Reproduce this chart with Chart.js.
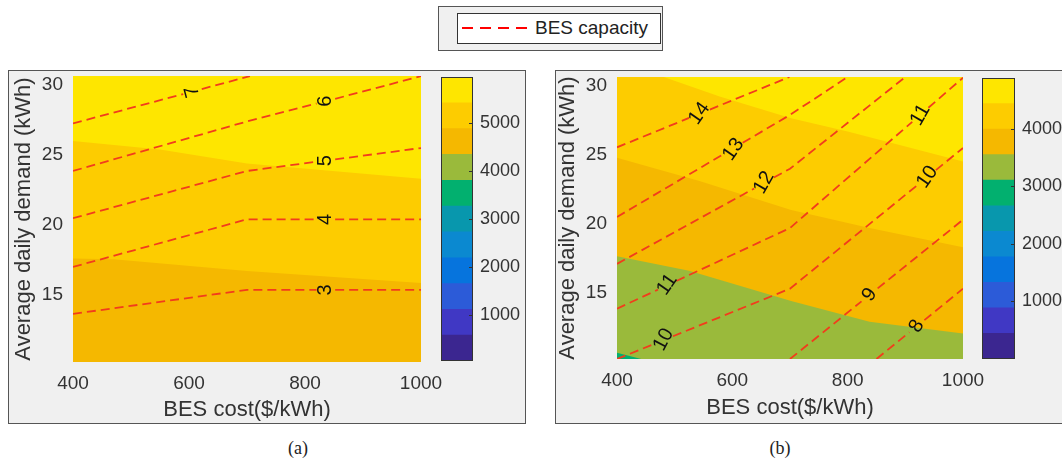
<!DOCTYPE html>
<html>
<head>
<meta charset="utf-8">
<script src="https://cdn.jsdelivr.net/npm/chart.js@4.4.1/dist/chart.umd.min.js"></script>
<style>
body { margin: 0; background: #fff; width: 1062px; height: 464px; position: relative; overflow: hidden; font-family: "Liberation Sans", Arial, sans-serif; }
.frame { position: absolute; box-sizing: border-box; border: 1px solid #555; background: #f0f0f0; }
canvas { position: absolute; }
.cap { position: absolute; font-family: "Liberation Serif", "Times New Roman", serif; font-size: 18px; color: #222; transform: translate(-50%, -50%); }
#legOuter { position: absolute; left: 438px; top: 6px; width: 225px; height: 45px; box-sizing: border-box; border: 1px solid #555; background: #f0f0f0; }
#legInner { position: absolute; left: 457px; top: 13px; width: 204px; height: 31px; box-sizing: border-box; border: 1px solid #333; background: #fff; }
#legText { position: absolute; left: 535px; top: 16px; font-size: 19px; color: #222; line-height: 24px; }
#legLine { position: absolute; left: 460px; top: 24px; }
</style>
</head>
<body>
<div class="frame" style="left:8px;top:70px;width:518px;height:354px"></div>
<div class="frame" style="left:555px;top:70px;width:520px;height:354px"></div>
<div id="legOuter"></div>
<div id="legInner"></div>
<svg id="legLine" width="72" height="8"><line x1="2" y1="4" x2="70" y2="4" stroke="#ff0000" stroke-width="2" stroke-dasharray="11 7"/></svg>
<div id="legText">BES capacity</div>

<canvas id="plotA" width="480" height="353" style="left:8px;top:70px"></canvas>
<canvas id="barA" width="95" height="300" style="left:430px;top:70px"></canvas>
<canvas id="plotB" width="480" height="353" style="left:552px;top:71px"></canvas>
<canvas id="barB" width="92" height="300" style="left:970px;top:70px"></canvas>

<div class="cap" style="left:298px;top:448px">(a)</div>
<div class="cap" style="left:780px;top:448px">(b)</div>

<script>
Chart.defaults.font.family = '"Liberation Sans", Arial, sans-serif';

// axes
const xTicks = [400, 600, 800, 1000];
const yTicks = [15, 20, 25, 30];
const yMin = 10.2, yMax = 30.65;

// colour bar levels (bottom to top)
const levelColors = ['#3b2690', '#4038c4', '#2c5bd8', '#0674dd', '#0b89d0', '#0897ad',
                     '#02b06f', '#9aba3b', '#f5b800', '#fdcc00', '#fee600'];
const levelsA = [42, 580, 1118, 1656, 2194, 2732, 3270, 3808, 4346, 4884, 5422, 5960];
const levelsB = [-10, 435, 880, 1325, 1770, 2215, 2660, 3105, 3550, 3995, 4440, 4885];
const cbTicksA = [1000, 2000, 3000, 4000, 5000];
const cbTicksB = [1000, 2000, 3000, 4000];

// (a) filled region borders
const aEdge1X = [400, 470, 700, 1000];
const aEdge1Y = [17.6, 17.55, 16.7, 15.85];
const aEdge2X = [400, 550, 700, 1000];
const aEdge2Y = [26.0, 25.4, 24.4, 23.3];

// (a) BES capacity contours (null = gap for the label)
const a3X = [400, 700, 820, 836, 852, 1000];
const a3Y = [13.64, 15.36, 15.36, null, 15.36, 15.36];
const a4X = [400, 700, 820, 836, 852, 1000];
const a4Y = [17.0, 20.4, 20.4, null, 20.4, 20.4];
const a5X = [400, 700, 820, 836, 852, 1000];
const a5Y = [20.48, 23.86, 24.52, null, 24.69, 25.5];
const a6X = [400, 700, 820, 836, 852, 1000];
const a6Y = [23.86, 27.4, 28.68, null, 29.02, 30.64];
const a7X = [400, 590, 606, 622, 705];
const a7Y = [27.26, 29.36, null, 29.72, 30.64];

const aLabelText = ['3', '4', '5', '6', '7'];
const aLabelX = [836, 836, 836, 836, 606];
const aLabelY = [15.36, 20.4, 24.6, 28.85, 29.54];
const aLabelRot = [-90, -90, -90, -90, -105];

// (b) filled region borders
const bTealX = [400, 442];
const bTealY = [10.65, 10.2];
const bEdge1X = [400, 525, 702, 838, 1000];
const bEdge1Y = [17.66, 16.6, 14.4, 12.9, 12.05];
const bEdge2X = [400, 543, 702, 838, 1000];
const bEdge2Y = [24.8, 23.1, 21.0, 19.7, 18.3];
const bEdge3X = [400, 481, 578, 702, 800, 1000];
const bEdge3Y = [30.65, 30.65, 29.23, 27.66, 26.7, 24.52];

// (b) BES capacity contours
const b14X = [400, 525, 543, 561, 699];
const b14Y = [25.55, 27.68, null, 28.29, 30.65];
const b13X = [400, 586, 602, 618, 700, 800];
const b13Y = [20.5, 25.09, null, 25.88, 27.9, 30.65];
const b12X = [400, 638, 655, 672, 700, 900];
const b12Y = [17.1, 22.57, null, 23.36, 24.0, 30.65];
const b11X = [400, 471, 487, 503, 700, 912, 926, 940, 1000];
const b11Y = [13.85, 15.23, null, 15.86, 19.7, 27.4, null, 28.42, 30.6];
const b10X = [400, 465, 481, 497, 700, 923, 938, 953, 1000];
const b10Y = [10.2, 11.3, null, 11.85, 15.3, 22.88, null, 23.9, 25.5];
const b9X = [700, 824, 838, 852, 1000];
const b9Y = [10.2, 14.38, null, 15.32, 20.3];
const b8X = [850, 907, 920, 933, 1000];
const b8Y = [10.2, 12.14, null, 13.02, 15.3];

const bLabelText = ['14', '13', '12', '11', '11', '10', '10', '9', '8'];
const bLabelX = [543, 602, 655, 487, 926, 481, 938, 838, 920];
const bLabelY = [28.0, 25.4, 23.0, 15.6, 27.9, 11.6, 23.4, 14.85, 12.58];
const bLabelRot = [-55, -55, -60, -55, -60, -62, -55, -55, -60];

function pts(xs, ys) {
    return xs.map((x, i) => ({ x: x, y: ys[i] }));
}

function band(xs, ys, color, order) {
    return {
        data: pts(xs, ys), fill: 'start', backgroundColor: color,
        borderColor: 'rgba(0,0,0,0)', borderWidth: 0, pointRadius: 0, order: order
    };
}

function contour(xs, ys) {
    return {
        data: pts(xs, ys), fill: false, borderColor: '#f23c1c', borderWidth: 1.8,
        borderDash: [9, 5], pointRadius: 0, order: 1
    };
}

function labelPlugin(texts, xs, ys, rots) {
    return {
        id: 'clabels',
        afterDatasetsDraw(chart) {
            const ctx = chart.ctx;
            const sx = chart.scales.x, sy = chart.scales.y;
            ctx.save();
            ctx.font = '20px "Liberation Sans", Arial, sans-serif';
            ctx.fillStyle = '#111';
            ctx.textAlign = 'center';
            ctx.textBaseline = 'middle';
            texts.forEach((t, i) => {
                ctx.save();
                ctx.translate(sx.getPixelForValue(xs[i]), sy.getPixelForValue(ys[i]));
                ctx.rotate(rots[i] * Math.PI / 180);
                ctx.fillText(t, 0, 0);
                ctx.restore();
            });
            ctx.restore();
        }
    };
}

const plain = v => String(v);

function makePlot(id, datasets, plugin, pad, yW, xH) {
    return new Chart(document.getElementById(id), {
        type: 'line',
        data: { datasets: datasets },
        options: {
            responsive: false, animation: false, events: [],
            layout: { padding: pad },
            plugins: { legend: { display: false }, tooltip: { enabled: false } },
            scales: {
                x: {
                    type: 'linear', min: 400, max: 1000,
                    afterBuildTicks: s => { s.ticks = xTicks.map(v => ({ value: v })); },
                    afterFit: s => { s.height = xH; s.paddingLeft = 0; s.paddingRight = 0; },
                    grid: { display: false, drawTicks: false }, border: { display: false },
                    ticks: { padding: 10, color: '#333', font: { size: 19 }, maxRotation: 0, autoSkip: false, callback: plain },
                    title: { display: true, text: 'BES cost($/kWh)', color: '#333', font: { size: 22 }, padding: 0 }
                },
                y: {
                    type: 'linear', min: yMin, max: yMax,
                    afterBuildTicks: s => { s.ticks = yTicks.map(v => ({ value: v })); },
                    afterFit: s => { s.width = yW; s.paddingTop = 0; s.paddingBottom = 0; },
                    grid: { display: false, drawTicks: false }, border: { display: false },
                    ticks: { padding: 10, color: '#333', font: { size: 19 }, autoSkip: false, callback: plain },
                    title: { display: true, text: 'Average daily demand (kWh)', color: '#333', font: { size: 22 }, padding: 0 }
                }
            }
        },
        plugins: [plugin]
    });
}

const cbOutline = {
    id: 'cbOutline',
    afterDraw(chart) {
        const ctx = chart.ctx, a = chart.chartArea, sy = chart.scales.y;
        ctx.save();
        ctx.strokeStyle = '#333';
        ctx.lineWidth = 1;
        ctx.strokeRect(a.left + 0.5, a.top + 0.5, a.right - a.left - 1, a.bottom - a.top - 1);
        sy.ticks.forEach(t => {
            const py = Math.round(sy.getPixelForValue(t.value)) + 0.5;
            ctx.beginPath();
            ctx.moveTo(a.right - 4, py);
            ctx.lineTo(a.right, py);
            ctx.stroke();
        });
        ctx.restore();
    }
};

function makeColorbar(id, levels, ticks, pad, axisW) {
    const datasets = levelColors.map((c, i) => ({
        data: [[levels[i], levels[i + 1]]], backgroundColor: c, borderWidth: 0,
        grouped: false, barPercentage: 1, categoryPercentage: 1
    }));
    return new Chart(document.getElementById(id), {
        type: 'bar',
        data: { labels: [''], datasets: datasets },
        options: {
            responsive: false, animation: false, events: [],
            layout: { padding: pad },
            plugins: { legend: { display: false }, tooltip: { enabled: false } },
            scales: {
                x: { display: false },
                y: {
                    position: 'right', min: levels[0], max: levels[levels.length - 1],
                    afterBuildTicks: s => { s.ticks = ticks.map(v => ({ value: v })); },
                    afterFit: s => { s.width = axisW; s.paddingTop = 0; s.paddingBottom = 0; },
                    grid: { display: false, drawTicks: false }, border: { display: false },
                    ticks: { padding: 7, color: '#333', font: { size: 18 }, autoSkip: false, callback: plain }
                }
            }
        },
        plugins: [cbOutline]
    });
}

// panel (a)
makePlot('plotA', [
    contour(a3X, a3Y), contour(a4X, a4Y), contour(a5X, a5Y), contour(a6X, a6Y), contour(a7X, a7Y),
    band(aEdge1X, aEdge1Y, levelColors[8], 4),
    band(aEdge2X, aEdge2Y, levelColors[9], 5),
    band([400, 1000], [yMax, yMax], levelColors[10], 6)
], labelPlugin(aLabelText, aLabelX, aLabelY, aLabelRot), { left: 3, top: 6, right: 67, bottom: 0 }, 62, 61);

makeColorbar('barA', levelsA, cbTicksA, { left: 11, top: 7, right: 0, bottom: 9 }, 52);

// panel (b)
makePlot('plotB', [
    contour(b14X, b14Y), contour(b13X, b13Y), contour(b12X, b12Y), contour(b11X, b11Y),
    contour(b10X, b10Y), contour(b9X, b9Y), contour(b8X, b8Y),
    band(bTealX, bTealY, levelColors[6], 3),
    band(bEdge1X, bEdge1Y, levelColors[7], 4),
    band(bEdge2X, bEdge2Y, levelColors[8], 5),
    band(bEdge3X, bEdge3Y, levelColors[9], 6),
    band([400, 1000], [yMax, yMax], levelColors[10], 7)
], labelPlugin(bLabelText, bLabelX, bLabelY, bLabelRot), { left: 3, top: 6, right: 69, bottom: 3 }, 62, 62);

makeColorbar('barB', levelsB, cbTicksB, { left: 12, top: 8, right: 0, bottom: 11 }, 47);
</script>
</body>
</html>
